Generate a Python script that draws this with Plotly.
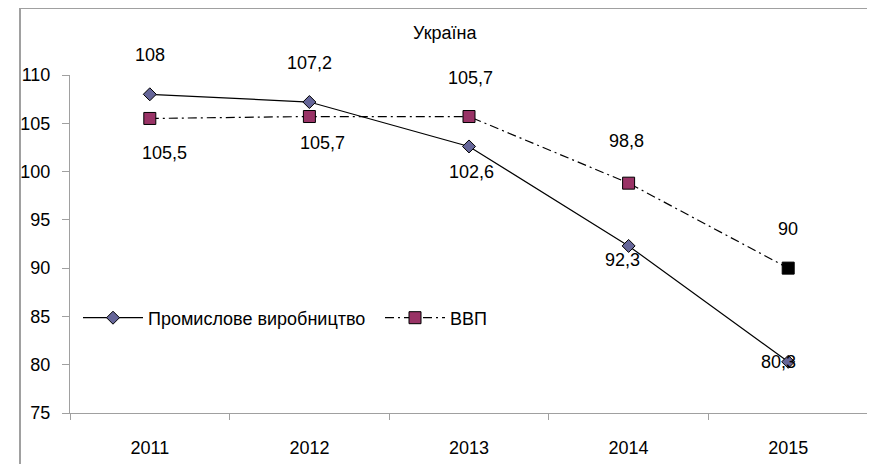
import plotly.graph_objects as go

years = ["2011", "2012", "2013", "2014", "2015"]
industry = [108, 107.2, 102.6, 92.3, 80.3]
gdp = [105.5, 105.7, 105.7, 98.8, 90]
industry_labels = ["108", "107,2", "102,6", "92,3", "80,3"]
gdp_labels = ["105,5", "105,7", "105,7", "98,8", "90"]
y_ticks = [75, 80, 85, 90, 95, 100, 105, 110]

FONT = "Liberation Sans, Arial, sans-serif"
FS = 18

# label offsets (style)
ind_shift = [(0, 39), (0, 39), (2, -26), (-6, -14), (-10, 0)]
gdp_shift = [(15, -35), (13, -26), (1, 39), (-2, 42), (0, 39)]

fig = go.Figure()
fig.add_trace(go.Scatter(
    x=years, y=industry, name="Промислове виробництво", mode="lines+markers",
    line=dict(color="black", width=1.2),
    marker=dict(symbol="diamond", size=10, color="#666699", line=dict(color="black", width=1)),
    cliponaxis=False,
))
fig.add_trace(go.Scatter(
    x=years, y=gdp, name="ВВП", mode="lines+markers",
    line=dict(color="black", width=1.2, dash="9px,4px,2px,4px"),
    marker=dict(symbol="square", size=12,
                color=["#993366"] * (len(gdp) - 1) + ["black"],
                line=dict(color="black", width=1)),
    cliponaxis=False,
))

annotations = []
for i, yv in enumerate(industry):
    annotations.append(dict(x=i, y=yv, text=industry_labels[i], showarrow=False,
                            xshift=ind_shift[i][0], yshift=ind_shift[i][1],
                            font=dict(family=FONT, size=FS, color="black")))
for i, yv in enumerate(gdp):
    annotations.append(dict(x=i, y=yv, text=gdp_labels[i], showarrow=False,
                            xshift=gdp_shift[i][0], yshift=gdp_shift[i][1],
                            font=dict(family=FONT, size=FS, color="black")))
annotations.append(dict(xref="paper", yref="paper", x=(445 - 70) / 798, y=(413 - 33) / 338,
                        xanchor="center", yanchor="middle",
                        text="Україна", showarrow=False,
                        font=dict(family=FONT, size=FS, color="black")))

fig.update_layout(
    template="none",
    width=867, height=456,
    margin=dict(l=62, r=7, t=67, b=51, autoexpand=False),
    paper_bgcolor="white", plot_bgcolor="white",
    font=dict(family=FONT, size=FS, color="black"),
    showlegend=True,
    legend=dict(orientation="h", x=8 / 798, y=(413 - 318) / 338, xanchor="left", yanchor="middle",
                bgcolor="rgba(0,0,0,0)", itemwidth=60, entrywidth=227, entrywidthmode="pixels",
                font=dict(family=FONT, size=FS)),
    annotations=annotations,
    shapes=[dict(type="rect", xref="paper", yref="paper",
                 x0=(20 - 70) / 798, x1=(873 - 70) / 798,
                 y0=-0.3, y1=(413 - 8) / 338,
                 line=dict(color="#a0a0a0", width=2), layer="below")],
    xaxis=dict(type="category", showgrid=False, showline=True, linecolor="#a0a0a0", linewidth=1,
               ticks="outside", tickson="boundaries", ticklen=6, tickcolor="#a0a0a0",
               ticklabelstandoff=18, range=[-0.5, 4.5], fixedrange=True, automargin=False,
               zeroline=False),
    yaxis=dict(range=[75, 110], tickvals=y_ticks, showgrid=False, showline=True,
               linecolor="#a0a0a0", linewidth=1, ticks="outside", ticklen=7,
               tickcolor="#a0a0a0", ticklabelstandoff=8, zeroline=False, automargin=False),
)

fig.write_html("out.html")
